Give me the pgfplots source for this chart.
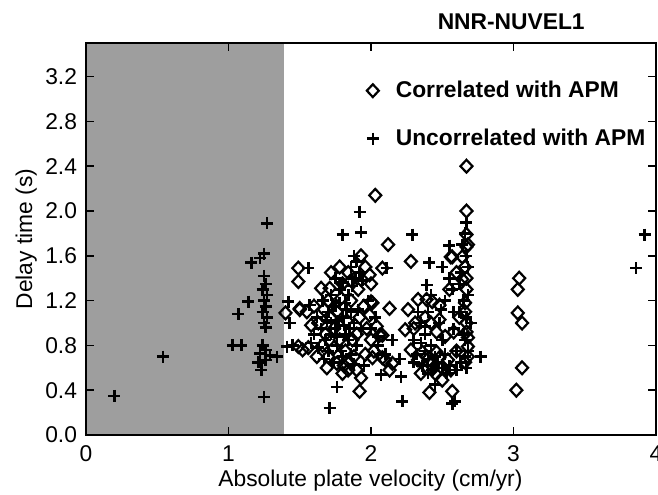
\documentclass[border=0pt]{standalone}
\usepackage{fontspec}
\setmainfont{Liberation Sans}
\usepackage{pgfplots}
\pgfplotsset{compat=1.18}

\begin{document}
\fontsize{11.4}{13.7}\selectfont
\begin{tikzpicture}
\path[use as bounding box] (-43pt,-29.5pt) rectangle (286pt,217.5pt);
\begin{axis}[
    scale only axis,
    width=285pt, height=196pt,
    xmin=0, xmax=4, ymin=0, ymax=3.5,
    xtick={0,1,2,3,4},
    ytick={0,0.4,...,3.2},
    tick align=inside,
    major tick length=4pt,
    tick style={black, line width=0.8pt},
    axis line style={line width=1.1pt},
    /pgf/number format/assume math mode=true,
    yticklabel style={/pgf/number format/fixed, /pgf/number format/precision=1,
        /pgf/number format/fixed zerofill, xshift=-0.5pt},
    xticklabel style={yshift=-1.5pt},
    xlabel={Absolute plate velocity (cm/yr)},
    ylabel={Delay time (s)},
    xlabel style={at={(axis description cs:0.499,-0.117)}, anchor=center},
    ylabel style={at={(axis description cs:-0.105,0.5)}, anchor=center},
    title={NNR-NUVEL1},
    title style={at={(axis description cs:0.746,1.023)}, anchor=center, font=\bfseries},
    legend style={at={(axis description cs:0.492,0.915)}, anchor=north west,
        draw=none, fill=none, font=\bfseries, row sep=10pt, column sep=6.5pt, inner sep=0pt},
    legend cell align=left,
    axis on top,
]
% shaded velocity band
\addplot[draw=none, fill=black!38, forget plot] coordinates {(0,3.5) (1.39,3.5)} \closedcycle;

\addplot[only marks, mark=diamond, mark size=3.2pt, line width=1.1pt,
    mark options={xscale=1.25}] coordinates {
(1.40,1.09)(1.50,1.12)(1.49,0.79)(1.56,0.78)(1.52,0.76)
(1.49,1.49)(1.49,1.37)(1.50,1.13)
(2.03,2.14)(2.12,1.70)(2.28,1.55)(2.13,1.13)
(1.69,0.60)(1.76,0.64)(1.93,0.51)(1.92,0.39)(2.08,0.69)(2.15,0.64)
(1.78,1.50)(1.71,1.31)(1.65,1.31)(1.99,1.43)(2.08,1.49)(2.01,1.18)(1.99,1.07)(2.04,0.97)(2.08,0.89)
(1.72,1.45)(1.60,1.15)(1.63,1.00)(1.68,0.90)(1.70,0.70)(1.74,0.78)(1.78,0.85)(1.82,0.75)
(1.85,0.65)(1.88,0.70)(1.90,0.90)(1.92,1.05)(1.95,1.15)(1.97,0.95)(2.00,0.85)(2.02,0.75)
(1.86,1.20)(1.80,1.35)(1.84,1.45)(1.93,1.60)(1.96,1.50)(2.00,1.35)(1.76,1.10)(1.70,1.20)
(1.66,0.80)(1.62,0.70)(1.58,0.98)(1.55,1.10)(1.80,0.55)(1.84,0.58)(1.90,0.58)(1.96,0.72)
(2.01,0.69)(2.10,0.67)(2.13,0.58)(2.06,0.89)(2.00,1.19)
(1.74,0.95)(1.79,1.22)(1.83,1.02)(1.87,0.85)(1.72,1.05)(1.81,0.62)(1.67,1.12)(1.91,1.30)(1.86,1.38)
(2.26,1.12)(2.24,0.94)(2.33,1.21)(2.39,1.21)(2.43,1.19)(2.48,1.16)(2.56,1.59)(2.64,1.59)
(2.64,1.39)(2.67,1.30)(2.66,1.18)(2.67,1.00)(2.68,0.87)(2.68,0.79)(2.57,0.39)(2.50,0.49)
(2.41,0.38)(2.28,0.76)(2.33,0.67)(2.36,0.74)(2.41,0.64)(2.46,0.74)(2.54,0.67)(2.52,0.88)
(2.46,0.92)(2.48,1.03)(2.67,2.40)(2.67,2.00)(2.67,1.68)(2.57,1.59)(2.67,1.79)(2.66,1.50)
(2.60,1.45)(2.55,1.30)(2.62,1.05)(2.58,0.92)(2.60,0.75)(2.66,0.65)(2.45,0.55)(2.35,0.55)
(2.30,0.95)(2.38,1.05)
(2.68,1.70)(2.67,1.40)(2.66,1.10)(2.67,0.92)(2.68,0.70)(2.44,0.60)(2.48,0.69)(2.39,0.70)
(2.56,0.58)(2.31,1.00)(2.42,1.00)
(3.04,1.40)(3.03,1.30)(3.03,1.09)(3.06,1.00)(3.06,0.60)(3.02,0.40)
};
\addlegendentry{Correlated with APM}

\addplot[only marks, mark=+, mark size=3pt, line width=1.3pt] coordinates {
(0.20,0.35)(0.54,0.70)
(1.03,0.80)(1.09,0.80)(1.07,1.08)(1.14,1.19)(1.16,1.54)(1.22,1.58)(1.27,1.89)(1.25,1.62)
(1.25,1.42)(1.26,1.35)(1.24,1.30)(1.27,1.25)(1.25,1.20)(1.26,1.15)(1.24,1.10)(1.27,1.05)
(1.25,1.00)(1.26,0.96)
(1.24,0.80)(1.26,0.76)(1.22,0.73)(1.21,0.65)(1.26,0.67)(1.23,0.58)(1.34,0.70)(1.29,0.71)(1.25,0.34)
(1.42,1.19)(1.43,1.00)(1.41,0.79)(1.45,0.80)
(1.56,1.49)(1.57,1.16)(1.58,0.82)
(1.80,1.79)(1.92,1.99)(1.93,1.81)(2.29,1.79)(2.39,1.34)(2.11,1.49)
(1.71,0.24)(2.22,0.30)(2.07,0.54)(1.76,0.43)(2.21,0.52)(2.05,0.88)
(1.88,1.60)(1.90,1.55)(1.86,1.50)(1.92,1.45)(1.89,1.40)(1.94,1.38)(1.87,1.33)(1.80,1.36)(1.82,1.18)
(1.66,1.20)(1.70,1.10)(1.72,1.00)(1.75,0.95)(1.78,1.18)(1.80,1.05)(1.82,0.90)(1.84,0.85)
(1.76,0.80)(1.70,0.75)(1.86,1.10)(1.88,1.00)(1.90,0.80)(1.72,1.25)(1.78,1.30)(1.65,0.95)
(1.68,0.85)(1.80,0.70)(1.74,0.65)(1.62,1.05)(1.60,0.90)(1.75,1.40)(1.75,1.15)(1.85,0.95)
(1.72,0.90)(1.77,1.02)(1.83,1.12)(1.79,0.75)(1.86,0.72)(1.69,1.02)(1.73,1.15)(1.81,0.98)
(1.76,0.88)(1.84,1.25)(1.91,1.12)(1.67,0.68)(1.88,0.63)(1.93,0.95)(1.63,0.78)
(1.98,1.20)(2.00,0.95)(2.05,0.80)(2.10,0.72)(2.15,0.85)(2.20,0.68)(1.95,0.62)(2.03,1.05)
(2.41,1.54)(2.77,0.70)(2.67,0.60)(2.59,0.30)(2.57,0.28)(2.38,0.97)
(2.35,1.00)(2.38,0.90)(2.40,1.10)(2.42,0.80)(2.45,0.70)(2.36,0.62)(2.40,0.55)(2.48,1.00)
(2.50,0.85)(2.52,1.20)(2.55,1.40)(2.55,1.69)(2.57,1.30)(2.58,0.95)(2.60,0.75)(2.62,1.10)
(2.63,1.45)(2.65,0.90)(2.67,1.90)(2.67,1.60)(2.68,1.25)(2.66,0.70)(2.30,0.85)(2.32,0.72)
(2.45,0.45)(2.50,0.60)(2.60,0.58)(2.70,1.00)(2.62,1.35)(2.50,1.50)(2.58,1.10)(2.44,0.62)
(2.53,0.55)(2.33,1.10)
(2.64,1.70)(2.66,1.80)(2.68,1.50)(2.65,1.20)(2.67,1.05)(2.66,0.85)(2.68,0.75)(2.63,0.65)
(2.40,0.68)(2.43,0.58)(2.47,0.65)(2.52,0.72)(2.55,0.62)(2.38,0.75)(2.35,0.82)(2.42,1.25)
(2.49,1.12)(2.30,0.65)
(3.92,1.79)(3.86,1.49)
};
\addlegendentry{Uncorrelated with APM}
\end{axis}
\end{tikzpicture}
\end{document}
